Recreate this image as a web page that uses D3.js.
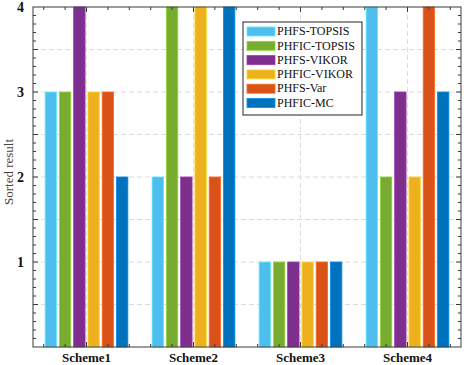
<!DOCTYPE html>
<html><head><meta charset="utf-8">
<script src="https://cdn.jsdelivr.net/npm/d3@7/dist/d3.min.js"></script>
<style>body{margin:0;background:#fff}svg{display:block}</style>
</head><body>
<svg id="c" width="466" height="365"></svg>
<script>
const categories = ["Scheme1","Scheme2","Scheme3","Scheme4"];
const seriesNames = ["PHFS-TOPSIS","PHFIC-TOPSIS","PHFS-VIKOR","PHFIC-VIKOR","PHFS-Var","PHFIC-MC"];
const seriesColors = ["#4DBEEE","#77AC30","#7E2F8E","#EDB120","#D95319","#0072BD"];
const values = [
  [3,3,4,3,3,2],
  [2,4,2,4,2,4],
  [1,1,1,1,1,1],
  [4,2,3,2,4,3]
];
const yTickLabels = [1,2,3,4];

const svg = d3.select("#c");
const L=33, R=461, T=7, B=347;
const x = d3.scaleLinear().domain([0.5,4.5]).range([L,R]);
const y = d3.scaleLinear().domain([0,4]).range([B,T]);
const font = "'Liberation Serif','Times New Roman',serif";
const axisColor = "#3a3a3a";

// grid
const g = svg.append("g");
const xg = [1,2,3,4];
g.selectAll(".vg").data(xg).enter().append("line")
  .attr("x1",d=>x(d)).attr("x2",d=>x(d)).attr("y1",T).attr("y2",B)
  .attr("stroke","#dcdcdc").attr("stroke-dasharray","5,3").attr("stroke-width",1);
const yg = d3.range(0.5,4,0.5);
g.selectAll(".hg").data(yg).enter().append("line")
  .attr("x1",L).attr("x2",R).attr("y1",d=>y(d)).attr("y2",d=>y(d))
  .attr("stroke","#dcdcdc").attr("stroke-dasharray","5,3").attr("stroke-width",1);

// bars
const nS = seriesNames.length;
const step = 0.8/nS, bw = 0.8*step;
categories.forEach((c,ci)=>{
  values[ci].forEach((v,si)=>{
    const cx = (ci+1) - 0.4 + step*(si+0.5);
    svg.append("rect")
      .attr("x", x(cx-bw/2)).attr("width", x(cx+bw/2)-x(cx-bw/2))
      .attr("y", y(v)).attr("height", y(0)-y(v))
      .attr("fill", seriesColors[si])
      .attr("stroke", d3.color(seriesColors[si]).brighter(0.6)).attr("stroke-width",0.8);
  });
});

// axes box
svg.append("rect").attr("x",L).attr("y",T).attr("width",R-L).attr("height",B-T)
  .attr("fill","none").attr("stroke",axisColor).attr("stroke-width",1);

// ticks
const ax = svg.append("g");
const xMinor = d3.range(0.6,4.41,0.2);
xMinor.forEach(t=>{
  const major = Math.abs(t-Math.round(t))<1e-6;
  const len = major?5:3;
  ax.append("line").attr("x1",x(t)).attr("x2",x(t)).attr("y1",B).attr("y2",B-len).attr("stroke",axisColor);
  ax.append("line").attr("x1",x(t)).attr("x2",x(t)).attr("y1",T).attr("y2",T+len).attr("stroke",axisColor);
});
const yMinor = d3.range(0.1,4,0.1);
yMinor.forEach(t=>{
  const major = Math.abs(t*2-Math.round(t*2))<1e-6;
  const len = major?5:3;
  ax.append("line").attr("x1",L).attr("x2",L+len).attr("y1",y(t)).attr("y2",y(t)).attr("stroke",axisColor);
  ax.append("line").attr("x1",R).attr("x2",R-len).attr("y1",y(t)).attr("y2",y(t)).attr("stroke",axisColor);
});

// y tick labels
svg.selectAll(".yl").data(yTickLabels).enter().append("text")
  .attr("x",L-9).attr("y",d=>y(d)).attr("dy","0.35em").attr("text-anchor","end")
  .attr("font-family",font).attr("font-weight","bold").attr("font-size",14).attr("fill","#111")
  .text(d=>d);
// x tick labels
svg.selectAll(".xl").data(categories).enter().append("text")
  .attr("x",(d,i)=>x(i+1)).attr("y",B+15).attr("text-anchor","middle")
  .attr("font-family",font).attr("font-weight","bold").attr("font-size",13).attr("fill","#111")
  .text(d=>d);
// y label
svg.append("text").attr("transform",`translate(13,172) rotate(-90)`)
  .attr("text-anchor","middle").attr("font-family",font).attr("font-size",13).attr("fill","#444")
  .text("Sorted result");

// legend
const lg = svg.append("g").attr("transform","translate(243,22)");
lg.append("rect").attr("x",0).attr("y",0).attr("width",119).attr("height",93)
  .attr("fill","#fff").attr("stroke","#222").attr("stroke-width",1);
seriesNames.forEach((n,i)=>{
  const yy = 9 + i*14.3;
  lg.append("rect").attr("x",4).attr("y",yy-4).attr("width",28).attr("height",9)
    .attr("fill",seriesColors[i]).attr("stroke",d3.color(seriesColors[i]).brighter(0.6)).attr("stroke-width",0.8);
  lg.append("text").attr("x",34).attr("y",yy).attr("dy","0.35em")
    .attr("font-family",font).attr("font-size",12).attr("fill","#111").text(n);
});
</script>
</body></html>
